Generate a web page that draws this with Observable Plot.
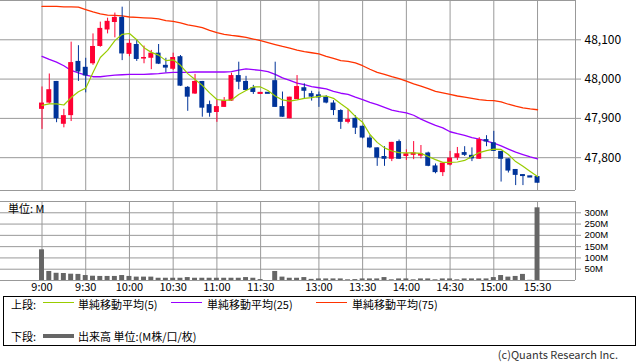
<!DOCTYPE html>
<html><head><meta charset="utf-8">
<script src="https://cdn.jsdelivr.net/npm/d3@7"></script>
<script src="https://cdn.jsdelivr.net/npm/@observablehq/plot@0.6"></script>
<style>
html,body{margin:0;padding:0;background:#fff;}
body{font-family:"Noto Sans CJK JP","Noto Sans",sans-serif;}
#wrap{position:relative;width:638px;height:362px;overflow:hidden;}
#top{position:absolute;left:0;top:0;}
#vol{position:absolute;left:0;top:200px;}
.t{position:absolute;font-size:11px;line-height:11px;white-space:nowrap;color:#000;}
#legend{position:absolute;left:3px;top:296px;width:633px;height:50px;border:1px solid #000;box-sizing:border-box;}
.sw{position:absolute;height:1px;}
svg text{font-family:"Noto Sans CJK JP","Noto Sans",sans-serif;}
svg .vlab text{font-family:"Liberation Sans",Arial,sans-serif;}
</style>
</head><body>
<div id="wrap">
  <div id="top"></div>
  <div id="vol"></div>
  <div id="legend"></div>
</div>
<script>
// ---- data (5-minute bars; slot index along the session axis) ----
const slots = d3.range(69);
const tickSlots = [0, 6, 12, 18, 24, 30, 38, 44, 50, 56, 62, 68];
const tickLabels = ["9:00","9:30","10:00","10:30","11:00","11:30","13:00","13:30","14:00","14:30","15:00","15:30"];
const priceTicks = [47800, 47900, 48000, 48100];
const volTicks = [50, 100, 150, 200, 250, 300];

const open  = [47923,47939,47994,47885,47907,48045,48030,48039,48083,48125,48144,48157,48063,48088,48051,48053,48066,48035,48025,48057,47979,47962,47994,47935,47915,47928,47944,48009,47994,47978,47962,47966,47996,47930,47899,47948,47978,47963,47960,47954,47939,47920,47890,47900,47880,47850,47825,47803,47796,47841,47803,47806,47804,47812,47779,47762,47781,47799,47813,47806,47796,47846,47838,47816,47797,47770,47757,47753,47752];
const high  = [47980,48013,47994,47923,48094,48085,48053,48115,48145,48155,48168,48183,48100,48100,48084,48073,48088,48053,48066,48060,47981,48012,47994,47944,47948,47953,48015,48043,48007,47984,47966,47966,48043,47967,47954,48009,47988,47969,47967,47958,47945,47922,47922,47907,47880,47856,47825,47828,47839,47845,47820,47841,47831,47814,47784,47786,47816,47826,47828,47825,47851,47856,47867,47816,47797,47770,47757,47753,47752];
const low   = [47872,47936,47889,47876,47892,47994,47965,48035,48081,48115,48105,48047,48057,48045,48039,48024,48037,48016,48022,47981,47918,47961,47903,47903,47890,47928,47943,47973,47971,47961,47961,47966,47928,47903,47899,47948,47948,47944,47928,47937,47907,47872,47886,47859,47848,47823,47778,47778,47790,47796,47793,47795,47797,47777,47759,47752,47779,47793,47803,47790,47796,47828,47816,47738,47761,47729,47729,47752,47735];
const close = [47939,47973,47899,47907,48042,48018,48008,48083,48129,48147,48157,48064,48091,48050,48055,48066,48038,48028,48055,47982,47954,47994,47926,47913,47930,47945,48009,47992,47971,47966,47965,47965,47928,47903,47954,47981,47969,47954,47952,47939,47920,47890,47897,47875,47850,47825,47799,47796,47839,47796,47810,47812,47810,47778,47762,47786,47799,47810,47806,47797,47846,47840,47816,47796,47766,47755,47752,47752,47735];
const volume = [136,40,32,31,28,27,22,19,18,18,18,22,18,15,15,15,10,10,10,10,13,10,10,10,10,10,10,10,13,10,4,0,40,15,10,10,13,5,7,7,7,7,3,4,7,7,7,13,3,7,7,3,7,7,3,7,7,3,7,7,7,7,13,22,15,18,27,1,322];
const ma5  = [47933,47937,47937,47934,47953,47968,47977,48017,48055,48073,48098,48114,48116,48100,48080,48068,48061,48047,48049,48035,48014,47999,47984,47965,47948,47946,47947,47961,47971,47980,47980,47971,47957,47947,47944,47947,47951,47953,47956,47957,47951,47937,47924,47905,47890,47859,47839,47825,47817,47813,47812,47812,47811,47803,47795,47788,47788,47789,47793,47803,47813,47818,47822,47821,47808,47790,47778,47765,47752];
const ma25 = [48058,48050,48043,48034,48022,48016,48010,48006,48006,48008,48010,48011,48012,48012,48012,48013,48014,48016,48017,48017,48017,48018,48018,48018,48018,48018,48019,48023,48026,48024,48022,48019,48012,48003,47997,47990,47986,47981,47978,47975,47969,47964,47961,47954,47948,47941,47935,47928,47921,47917,47914,47908,47898,47890,47882,47876,47866,47861,47857,47851,47847,47842,47837,47830,47822,47814,47808,47802,47797];
const ma75 = [48185,48185,48185,48184,48184,48183,48177,48171,48166,48163,48162,48161,48158,48157,48156,48155,48153,48149,48147,48143,48138,48135,48131,48124,48118,48114,48111,48109,48106,48102,48098,48093,48088,48083,48079,48074,48070,48067,48064,48058,48053,48047,48045,48041,48034,48025,48017,48012,48006,48001,47995,47988,47982,47976,47969,47965,47961,47957,47954,47951,47948,47946,47945,47942,47936,47931,47927,47924,47922];

const rows = slots.map(i => ({i, o: open[i], h: high[i], l: low[i], c: close[i], v: volume[i], m5: ma5[i], m25: ma25[i], m75: ma75[i]}));

const UP = "#ff0033", DN = "#003399", GRID = "#999999";
const C5 = "#99cc00", C25 = "#9900ff", C75 = "#ff3300", VOLC = "#666666";
const col = d => d.c >= d.o ? UP : DN;
const xDomain = [-5.695, 73.21];
const yDomain = [47716.5, 48200];
const half = 0.34;

const topChart = Plot.plot({
  width: 638, height: 191,
  marginLeft: 0, marginRight: 63, marginTop: 0, marginBottom: 1,
  x: {type: "linear", domain: xDomain, axis: null},
  y: {domain: yDomain, axis: null},
  color: {type: "identity"},
  marks: [
    Plot.ruleY(priceTicks, {stroke: GRID}),
    Plot.ruleX(tickSlots, {stroke: GRID}),
    Plot.ruleY([yDomain[1], yDomain[0]], {stroke: GRID}),
    Plot.ruleX([xDomain[1]], {stroke: GRID}),
    Plot.axisY(priceTicks, {anchor: "right", label: null, tickSize: 5, tickPadding: 4, stroke: GRID, fill: "#000", fontSize: 12, tickFormat: d3.format(",")}),
    Plot.line(rows, {x: "i", y: "m75", stroke: C75, strokeWidth: 1.3}),
    Plot.line(rows, {x: "i", y: "m25", stroke: C25, strokeWidth: 1.3}),
    Plot.ruleX(rows, {x: "i", y1: "l", y2: "h", stroke: col, strokeWidth: 1}),
    Plot.rect(rows, {x1: d => d.i - half, x2: d => d.i + half, y1: "o", y2: "c", fill: col}),
    Plot.ruleY(rows.filter(d => Math.abs(d.o - d.c) < 4), {x1: d => d.i - half, x2: d => d.i + half, y: "c", stroke: col, strokeWidth: 2}),
    Plot.line(rows, {x: "i", y: "m5", stroke: C5, strokeWidth: 1.2})
  ]
});
document.getElementById("top").append(topChart);

const volChart = Plot.plot({
  width: 638, height: 96,
  marginLeft: 0, marginRight: 63, marginTop: 1, marginBottom: 16,
  x: {type: "linear", domain: xDomain, axis: null},
  y: {domain: [0, 350], axis: null},
  marks: [
    Plot.ruleY(volTicks, {stroke: GRID}),
    Plot.ruleX(tickSlots, {stroke: GRID}),
    Plot.ruleY([0, 350], {stroke: GRID}),
    Plot.ruleX([xDomain[1]], {stroke: GRID}),
    Plot.rect(rows, {x1: d => d.i - half, x2: d => d.i + half, y1: 0, y2: "v", fill: VOLC}),
    Plot.axisY(volTicks, {anchor: "right", label: null, tickSize: 5, tickPadding: 4, stroke: GRID, fill: "#000", fontSize: 9.5, className: "vlab", tickFormat: d => d + "M"}),
    Plot.axisX(tickSlots, {anchor: "bottom", label: null, tickSize: 0, tickPadding: 3, fill: "#000", fontSize: 11, tickFormat: d => tickLabels[tickSlots.indexOf(d)]})
  ]
});
document.getElementById("vol").append(volChart);

// ---- texts and legend ----
const wrap = document.getElementById("wrap");
function addText(parent, txt, left, top, extra) {
  const s = document.createElement("span");
  s.className = "t";
  s.textContent = txt;
  s.style.left = left + "px";
  s.style.top = top + "px";
  if (extra) Object.assign(s.style, extra);
  parent.append(s);
  return s;
}
function addSwatch(parent, left, top, w, h, color) {
  const d = document.createElement("div");
  d.className = "sw";
  Object.assign(d.style, {left: left + "px", top: top + "px", width: w + "px", height: h + "px", background: color});
  parent.append(d);
}
addText(wrap, "単位: M", 8, 203);

const lg = document.getElementById("legend");
const legendItems = [
  {label: "単純移動平均(5)", color: C5, sx: 39, tx: 74},
  {label: "単純移動平均(25)", color: C25, sx: 167, tx: 203},
  {label: "単純移動平均(75)", color: C75, sx: 312, tx: 348}
];
addText(lg, "上段:", 7, 1.5);
legendItems.forEach(it => {
  addSwatch(lg, it.sx, 5, 31, 1, it.color);
  addText(lg, it.label, it.tx, 1.5);
});
addText(lg, "下段:", 7, 33.5);
addSwatch(lg, 39, 37, 31, 4, VOLC);
addText(lg, "出来高 単位:(M株/口/枚)", 74, 33.5);

addText(wrap, "(c)Quants Research Inc.", 0, 349, {left: "auto", right: "20px", color: "#333"});
</script>
</body></html>
